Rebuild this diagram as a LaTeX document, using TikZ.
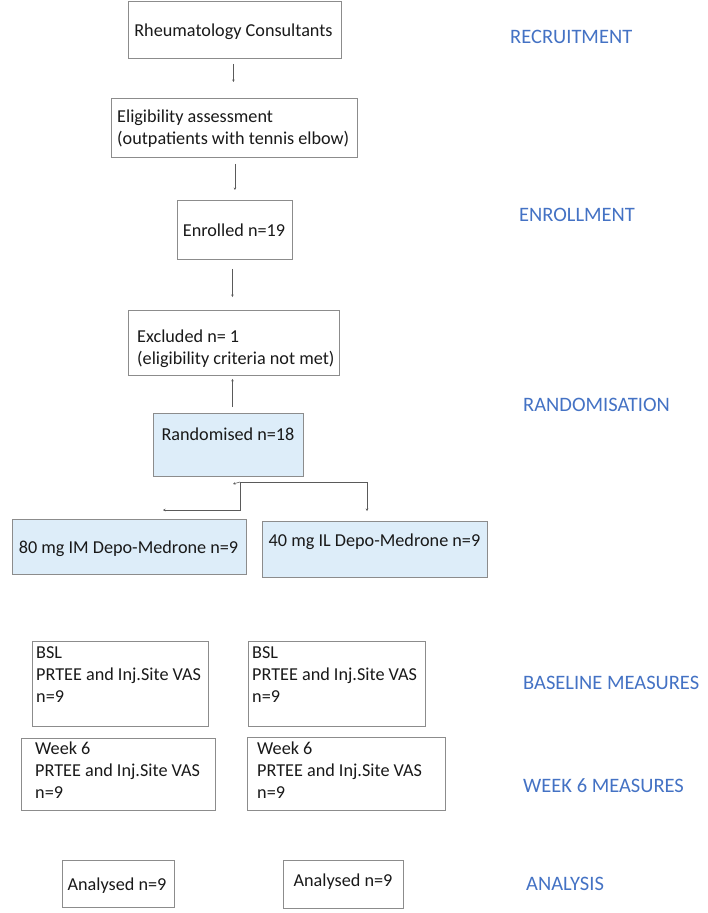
\documentclass[tikz,border=0pt]{standalone}
\usepackage{fontspec}
\setmainfont{Carlito}
\usetikzlibrary{arrows.meta}
\definecolor{boxline}{RGB}{140,140,140}
\definecolor{boxfill}{RGB}{221,237,249}
\definecolor{stage}{RGB}{68,114,196}
\definecolor{conncol}{RGB}{90,90,90}
\tikzset{
  box/.style={draw=boxline, line width=0.9pt, rectangle, inner sep=0pt, anchor=north west},
  bluebox/.style={box, fill=boxfill},
  txt/.style={inner sep=0pt, font=\fontsize{18.2}{22}\selectfont, text=black!90},
  ltxt/.style={txt, anchor=north west, align=left},
  ctxt/.style={txt, anchor=base},
  stagelbl/.style={inner sep=0pt, anchor=base west, font=\fontsize{20.5}{24}\selectfont, text=stage},
  conn/.style={draw=conncol, line width=0.6pt, -{Stealth[length=2.5pt,width=2.5pt]}},
}
\begin{document}
\begin{tikzpicture}[x=1pt,y=-1pt]
\useasboundingbox (0,0) rectangle (707,913);
% boxes
\node[box, minimum width=213, minimum height=57] (rc) at (128,1) {};
\node[box, minimum width=246, minimum height=59] (elig) at (111,98) {};
\node[box, minimum width=115, minimum height=59] (enr) at (177,200) {};
\node[box, minimum width=211, minimum height=65] (exc) at (128,310) {};
\node[bluebox, minimum width=150, minimum height=63] (rand) at (153,413) {};
\node[bluebox, minimum width=234, minimum height=55] (im) at (12,519) {};
\node[bluebox, minimum width=225, minimum height=56] (il) at (262,521) {};
\node[box, minimum width=176, minimum height=85] (bslL) at (32,641) {};
\node[box, minimum width=177, minimum height=85] (bslR) at (248,641) {};
\node[box, minimum width=194, minimum height=72] (wkL) at (21,738) {};
\node[box, minimum width=198, minimum height=73] (wkR) at (247,737) {};
\node[box, minimum width=112, minimum height=47] (anL) at (62,860) {};
\node[box, minimum width=120, minimum height=48] (anR) at (283,860) {};
% texts
\node[ctxt] (rct) at (233.5,36.7) {Rheumatology Consultants};
\node[ltxt] (eligt) at (117,110) {Eligibility assessment\\(outpatients with tennis elbow)};
\node[ctxt] (enrt) at (234,236.7) {Enrolled n=19};
\node[ltxt] (exct) at (137,330) {Excluded n= 1\\(eligibility criteria not met)};
\node[ctxt] (randt) at (228,440) {Randomised n=18};
\node[ctxt] (imt) at (128.5,553) {80 mg IM Depo-Medrone n=9};
\node[ctxt] (ilt) at (374.5,546) {40 mg IL Depo-Medrone n=9};
\node[ltxt] (bslLt) at (36,646) {BSL\\PRTEE and Inj.Site VAS\\n=9};
\node[ltxt] (bslRt) at (252,646) {BSL\\PRTEE and Inj.Site VAS\\n=9};
\node[ltxt] (wkLt) at (35,742) {Week 6\\PRTEE and Inj.Site VAS\\n=9};
\node[ltxt] (wkRt) at (257,742) {Week 6\\PRTEE and Inj.Site VAS\\n=9};
\node[ctxt] (anLt) at (117,890) {Analysed n=9};
\node[ctxt] (anRt) at (343,886.7) {Analysed n=9};
% stage labels
\node[stagelbl] (s1) at (510,43) {RECRUITMENT};
\node[stagelbl] (s2) at (519,221) {ENROLLMENT};
\node[stagelbl] (s3) at (523,411) {RANDOMISATION};
\node[stagelbl] (s4) at (523,689) {BASELINE MEASURES};
\node[stagelbl] (s5) at (523,792) {WEEK 6 MEASURES};
\node[stagelbl] (s6) at (526,890) {ANALYSIS};
% connectors
\draw[conn, shorten <=5pt, shorten >=16pt] ([xshift=-1.5pt]rc.south) -- ([xshift=-1.5pt]rc.south |- elig.north);
\draw[conn, shorten <=6pt, shorten >=10pt] (elig.south -| enr.south) -- (enr.north);
\draw[conn, shorten <=9pt, shorten >=13pt] ([xshift=-2.5pt]enr.south) -- ([xshift=-2.5pt]enr.south |- exc.north);
\draw[conn, shorten <=6pt, shorten >=3pt] ([xshift=4pt]rand.north) -- ([xshift=4pt]rand.north |- exc.south);
\coordinate (sp) at (240,482);
\coordinate (tipL) at (163,510);
\coordinate (tipR) at (367,511);
\draw[conn] (sp) -- (233,484);
\draw[conn] (sp) -- (sp |- tipL) -- (tipL);
\draw[conn] (sp) -| (tipR);
\end{tikzpicture}
\end{document}
